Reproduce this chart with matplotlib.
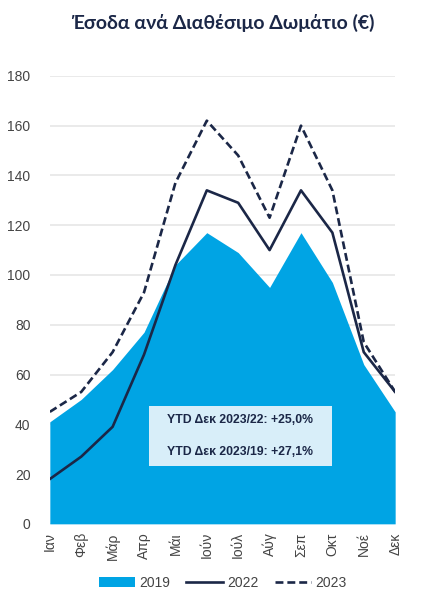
import numpy as np
import matplotlib
matplotlib.use("Agg")
import matplotlib.pyplot as plt
from matplotlib.patches import Rectangle

months = ["Ιαν", "Φεβ", "Μάρ", "Απρ", "Μάι", "Ιούν", "Ιούλ", "Αύγ", "Σεπ", "Οκτ", "Νοέ", "Δεκ"]
revpar_2019 = [41, 50, 62, 77, 104, 117, 109, 95, 117, 97, 64, 45]
revpar_2022 = [18, 27, 39, 68, 104, 134, 129, 110, 134, 117, 69, 53]
revpar_2023 = [45, 53, 69, 93, 137, 162, 148, 123, 160, 134, 73, 53]
yticks = [0, 20, 40, 60, 80, 100, 120, 140, 160, 180]
note_lines = ["YTD Δεκ 2023/22: +25,0%", "YTD Δεκ 2023/19: +27,1%"]

navy = "#1b2747"
blue = "#00a4e4"

plt.rcParams["font.family"] = ["Liberation Sans", "DejaVu Sans"]

fig = plt.figure(figsize=(4.45, 6.07), dpi=100)
ax = fig.add_axes([0.112, 0.137, 0.776, 0.738])

x = np.arange(len(months))
ax.fill_between(x, 0, revpar_2019, color=blue, lw=0, label="2019", zorder=2)
ax.plot(x, revpar_2022, color=navy, lw=1.9, label="2022", zorder=3)
ax.plot(x, revpar_2023, color=navy, lw=1.9, ls=(0, (3, 1.5)), label="2023", zorder=3)

ax.set_xlim(0, 11)
ax.set_ylim(0, 180)
ax.set_yticks(yticks)
ax.grid(axis="y", color="#e6e6e6", lw=1.2, zorder=0)
ax.set_xticks(x)
ax.set_xticklabels(months, rotation=90)
ax.tick_params(length=0, labelsize=10, colors="#444444")
ax.tick_params(axis="y", pad=14)
ax.tick_params(axis="x", pad=6)
for s in ax.spines.values():
    s.set_visible(False)

# annotation box
ax.add_patch(Rectangle((0.287, 0.129), 0.53, 0.134, transform=ax.transAxes,
                       fc="#d8eef9", ec="none", zorder=5))
ax.text(0.552, 0.231, note_lines[0], transform=ax.transAxes, ha="center", va="center",
        fontsize=8.8, fontweight="bold", color=navy, zorder=6)
ax.text(0.552, 0.160, note_lines[1], transform=ax.transAxes, ha="center", va="center",
        fontsize=8.8, fontweight="bold", color=navy, zorder=6)

fig.text(0.5, 0.962, "Έσοδα ανά Διαθέσιμο Δωμάτιο (€)", ha="center", va="center",
         fontsize=14, fontweight="bold", color=navy, family=["Lato", "DejaVu Sans"])

leg = fig.legend(loc="center", bbox_to_anchor=(0.5, 0.04), ncol=3, frameon=False,
                 fontsize=10, handlelength=2.6, columnspacing=1.2, handletextpad=0.3)
for t in leg.get_texts():
    t.set_color("#444444")

fig.savefig("out.png", dpi=100)
